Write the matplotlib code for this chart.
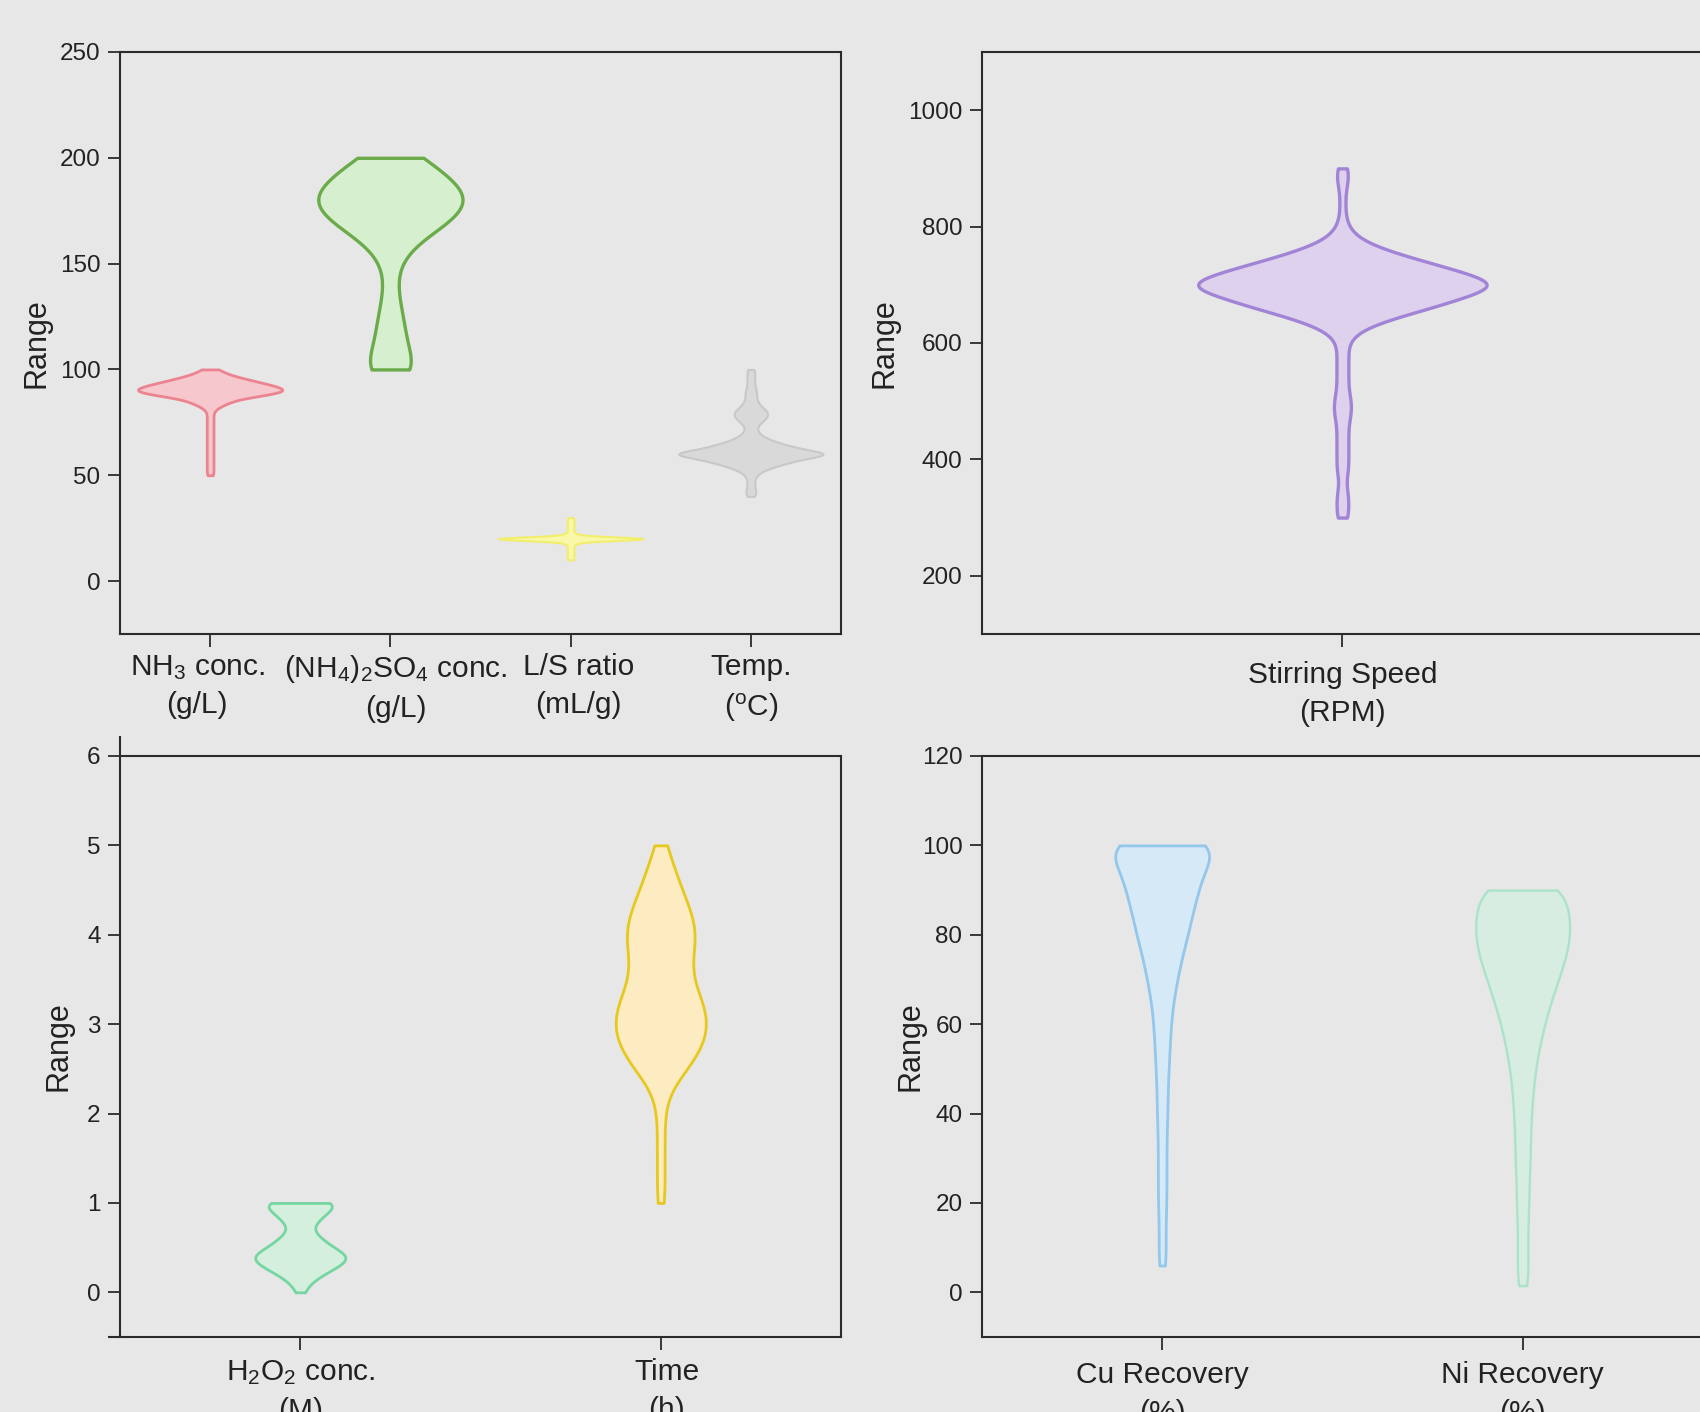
import numpy as np
import matplotlib
matplotlib.use('Agg')
import matplotlib.pyplot as plt
from matplotlib.transforms import ScaledTranslation

plt.rcParams['font.family'] = ['Liberation Sans', 'DejaVu Sans']
plt.rcParams['mathtext.fontset'] = 'custom'
plt.rcParams['mathtext.rm'] = 'Liberation Sans'
plt.rcParams['mathtext.it'] = 'Liberation Sans:italic'

BG = '#e7e7e7'
INK = '#2b2b2b'

# ---- data: observed levels and how often each occurs ----
nh3_levels = [50, 52, 54, 56, 58, 60, 62, 64, 66, 68, 70, 72, 74, 76, 78, 80,
              82, 84, 86, 88, 90, 92, 94, 96, 98, 100]
nh3_counts = [3, 3, 3, 3, 3, 3, 3, 3, 3, 3, 3, 3, 3, 3, 3, 3,
              7, 16, 24, 52, 72, 60, 44, 28, 14, 8]

so4_levels = [100, 110, 120, 130, 140, 150, 160, 170, 180, 190, 200]
so4_counts = [14, 8, 7, 5, 3, 4, 12, 30, 40, 30, 16]

ls_levels = [10, 11, 12, 13, 14, 15, 16, 17, 18, 19, 20, 21, 22, 23, 24, 25,
             26, 27, 28, 29, 30]
ls_counts = [1, 1, 1, 1, 1, 1, 1, 1, 2, 4, 40, 4, 2, 1, 1, 1, 1, 1, 1, 1, 1]

temp_levels = [40, 42, 44, 46, 48, 50, 52, 54, 56, 58, 60, 62, 64, 66, 68, 70,
               72, 74, 76, 78, 80, 82, 84, 86, 88, 90, 92, 94, 96, 98, 100]
temp_counts = [2, 3, 2, 2, 2, 3, 6, 12, 20, 28, 46, 28, 20, 12, 7, 4,
               3, 4, 7, 9, 9, 6, 4, 3, 3, 3, 2, 2, 2, 2, 2]

stir_levels = [300, 320, 340, 360, 380, 400, 420, 440, 460, 480, 500, 520, 540,
               560, 580, 600, 620, 640, 660, 680, 700, 720, 740, 760, 780, 800,
               820, 840, 860, 880, 900]
stir_counts = [2, 2, 2, 1, 2, 2, 2, 2, 2, 3, 3, 2, 2,
               2, 2, 2, 5, 15, 30, 42, 55, 42, 28, 14, 5, 2,
               1, 1, 1, 2, 2]

h2o2_levels = [0.0, 0.1, 0.2, 0.3, 0.4, 0.5, 0.6, 0.7, 0.8, 0.9, 1.0]
h2o2_counts = [1, 2, 5, 9, 12, 7, 5, 2, 4, 6, 10]

time_levels = [1.0, 1.25, 1.5, 1.75, 2.0, 2.25, 2.5, 2.75, 3.0, 3.25, 3.5,
               3.75, 4.0, 4.25, 4.5, 4.75, 5.0]
time_counts = [2, 2, 2, 2, 2, 4, 14, 22, 25, 22, 16, 16, 19, 16, 11, 7, 3]

cu_levels = [6, 10, 15, 20, 25, 30, 35, 40, 45, 50, 55, 60, 65, 70, 75, 80,
             85, 90, 95, 100]
cu_counts = [3, 3, 3, 4, 4, 4, 4, 5, 5, 6, 7, 8, 10, 14, 18, 24, 28, 34, 38, 60]

ni_levels = [1.5, 5, 10, 15, 20, 25, 30, 35, 40, 45, 50, 55, 60, 65, 70, 75,
             80, 85, 90]
ni_counts = [3, 4, 4, 4, 5, 5, 6, 6, 7, 8, 10, 13, 17, 22, 28, 34, 38, 36, 36]

top_left_labels = ['NH$_3$ conc.\n(g/L)', '(NH$_4$)$_2$SO$_4$ conc.\n(g/L)',
                   'L/S ratio\n(mL/g)', 'Temp.\n($^\\mathrm{o}$C)']
top_right_labels = ['Stirring Speed\n(RPM)']
bottom_left_labels = ['H$_2$O$_2$ conc.\n(M)', 'Time\n(h)']
bottom_right_labels = ['Cu Recovery\n(%)', 'Ni Recovery\n(%)']


def add_violin(ax, pos, levels, counts, sigma, width, face, edge, lw=2.0):
    data = np.repeat(np.asarray(levels, dtype=float), counts)
    factor = sigma / np.std(data, ddof=1)
    parts = ax.violinplot([data], positions=[pos], widths=width,
                          showextrema=False, points=500, bw_method=factor)
    for body in parts['bodies']:
        body.set_facecolor(face)
        body.set_edgecolor(edge)
        body.set_alpha(1)
        body.set_linewidth(lw)


def style_axis(ax, labels, ylim, yticks, xpad, ylabelpad, nudges=None):
    ax.set_facecolor(BG)
    for side in ['left', 'right', 'top', 'bottom']:
        ax.spines[side].set_color(INK)
        ax.spines[side].set_linewidth(1.5)
    ax.set_xlim(0.5, len(labels) + 0.5)
    ax.set_xticks(range(1, len(labels) + 1))
    ax.set_xticklabels(labels, fontsize=21.5, linespacing=1.45)
    ax.set_ylim(*ylim)
    ax.set_yticks(yticks)
    ax.tick_params(axis='y', direction='out', length=8.5, width=1.3,
                   labelsize=17.5, pad=5.5, color=INK, labelcolor='#222222')
    ax.tick_params(axis='x', direction='out', length=9, width=1.3,
                   pad=xpad, color=INK, labelcolor='#222222')
    ax.set_ylabel('Range', fontsize=22, color='#222222', labelpad=ylabelpad)
    # the source figure does not centre every category label on its tick
    if nudges:
        for lab, dx in zip(ax.get_xticklabels(), nudges):
            lab.set_transform(lab.get_transform() +
                              ScaledTranslation(dx / 100, 0, fig.dpi_scale_trans))


fig = plt.figure(figsize=(17, 14.12), dpi=100, facecolor=BG)

ax1 = fig.add_axes([0.0706, 0.551, 0.4241, 0.4122])
ax2 = fig.add_axes([0.5776, 0.551, 0.4241, 0.4122])
ax3 = fig.add_axes([0.0706, 0.0531, 0.4241, 0.4115])
ax4 = fig.add_axes([0.5776, 0.0531, 0.4241, 0.4115])

# top left: leaching conditions
add_violin(ax1, 1, nh3_levels, nh3_counts, 1.5, 0.8, '#f6c7cc', '#ec8390')
add_violin(ax1, 2, so4_levels, so4_counts, 8, 0.8, '#d6efcf', '#6aab4a', 2.4)
add_violin(ax1, 3, ls_levels, ls_counts, 0.8, 0.8, '#f8f8a8', '#f2ee6a', 1.5)
add_violin(ax1, 4, temp_levels, temp_counts, 1.5, 0.8, '#d9d9d9', '#c8c8c8', 1.5)
style_axis(ax1, top_left_labels, (-25, 250), [0, 50, 100, 150, 200, 250], 4.5, 6,
           nudges=[-13, 5, 8, 0])

# top right: stirring speed
add_violin(ax2, 1, stir_levels, stir_counts, 15, 0.4, '#ddd1ed', '#a284d6', 2.4)
style_axis(ax2, top_right_labels, (100, 1100), [200, 400, 600, 800, 1000], 10.3, 6)

# bottom left: oxidant and time
add_violin(ax3, 1, h2o2_levels, h2o2_counts, 0.08, 0.25, '#d4efdd', '#74d6a0')
add_violin(ax3, 2, time_levels, time_counts, 0.2, 0.25, '#fdebc2', '#e6c81e')
style_axis(ax3, bottom_left_labels, (-0.5, 6), [0, 1, 2, 3, 4, 5, 6], 6, 9.5,
           nudges=[0, 6])
# the left axis line runs a little past the frame, as in the source figure
ax3.plot([0, 0], [1, 1.035], transform=ax3.transAxes, color=INK, lw=1.5,
         clip_on=False, solid_capstyle='butt')
ax3.plot([-0.016, 0], [0, 0], transform=ax3.transAxes, color=INK, lw=1.5,
         clip_on=False, solid_capstyle='butt')

# bottom right: recoveries
add_violin(ax4, 1, cu_levels, cu_counts, 4, 0.26, '#d6e9f7', '#93c7ec')
add_violin(ax4, 2, ni_levels, ni_counts, 4, 0.26, '#d7ede2', '#abe2ca', 1.7)
style_axis(ax4, bottom_right_labels, (-10, 120), [0, 20, 40, 60, 80, 100, 120], 8, -3)

fig.savefig('out.png', dpi=100, facecolor=BG)
